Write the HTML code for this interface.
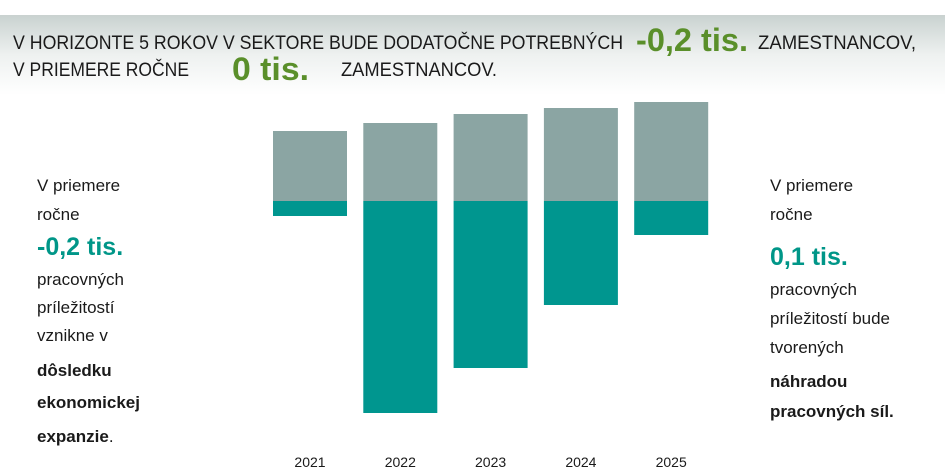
<!DOCTYPE html>
<html><head><meta charset="utf-8"><style>
html,body{margin:0;padding:0;background:#fff;}
svg{display:block;font-family:"Liberation Sans",sans-serif;}
</style></head><body>
<svg width="945" height="475" viewBox="0 0 945 475">
<defs>
<linearGradient id="hdr" x1="0" y1="0" x2="0" y2="1">
<stop offset="0" stop-color="#c9d2d0"/><stop offset="0.5" stop-color="#eef1f0"/><stop offset="1" stop-color="#ffffff"/>
</linearGradient>
</defs>
<rect x="0" y="15" width="945" height="80" fill="url(#hdr)"/>
<g fill="#1a1a1a">
<text x="13" y="49" font-size="19" textLength="610" lengthAdjust="spacingAndGlyphs">V HORIZONTE 5 ROKOV V SEKTORE BUDE DODATOČNE POTREBNÝCH</text>
<text x="636" y="51" font-size="32" font-weight="bold" fill="#5a8f2a" textLength="112" lengthAdjust="spacingAndGlyphs">-0,2 tis.</text>
<text x="758" y="49" font-size="19" textLength="158" lengthAdjust="spacingAndGlyphs">ZAMESTNANCOV,</text>
<text x="13" y="76" font-size="19" textLength="176" lengthAdjust="spacingAndGlyphs">V PRIEMERE ROČNE</text>
<text x="232" y="80" font-size="32" font-weight="bold" fill="#5a8f2a" textLength="77" lengthAdjust="spacingAndGlyphs">0 tis.</text>
<text x="341" y="76" font-size="19" textLength="156" lengthAdjust="spacingAndGlyphs">ZAMESTNANCOV.</text>
</g>
<g id="bars"></g>
<g font-size="17" fill="#1a1a1a">
<text x="37" y="191">V priemere</text>
<text x="37" y="220">ročne</text>
<text x="37" y="255" font-size="25" font-weight="bold" fill="#009688">-0,2 tis.</text>
<text x="37" y="285">pracovných</text>
<text x="37" y="313">príležitostí</text>
<text x="37" y="341">vznikne v</text>
<text x="37" y="376" font-weight="bold">dôsledku</text>
<text x="37" y="408" font-weight="bold">ekonomickej</text>
<text x="37" y="442"><tspan font-weight="bold">expanzie</tspan>.</text>
</g>
<g font-size="17" fill="#1a1a1a">
<text x="770" y="191">V priemere</text>
<text x="770" y="220">ročne</text>
<text x="770" y="265" font-size="25" font-weight="bold" fill="#009688">0,1 tis.</text>
<text x="770" y="295">pracovných</text>
<text x="770" y="324">príležitostí bude</text>
<text x="770" y="353">tvorených</text>
<text x="770" y="387" font-weight="bold">náhradou</text>
<text x="770" y="417" font-weight="bold">pracovných síl.</text>
</g>
</svg>
<script>
const years = ["2021","2022","2023","2024","2025"];
const replacementVals = [70, 78, 87, 93, 99];
const expansionVals = [-15, -212, -167, -104, -34];
const baseY = 201, pxPerUnit = 1, x0 = 273, step = 90.3, bw = 74;
const yScale = v => baseY - v * pxPerUnit;
const xScale = i => x0 + i * step;
const g = document.getElementById('bars');
const NS = 'http://www.w3.org/2000/svg';
years.forEach((yr, i) => {
  const x = xScale(i);
  const r1 = document.createElementNS(NS, 'rect');
  r1.setAttribute('x', x); r1.setAttribute('width', bw);
  r1.setAttribute('y', Math.min(yScale(replacementVals[i]), baseY));
  r1.setAttribute('height', Math.abs(replacementVals[i]) * pxPerUnit);
  r1.setAttribute('fill', '#8ba5a3');
  
  
  g.appendChild(r1);
  const r2 = document.createElementNS(NS, 'rect');
  r2.setAttribute('x', x); r2.setAttribute('width', bw);
  r2.setAttribute('y', Math.min(yScale(expansionVals[i]), baseY));
  r2.setAttribute('height', Math.abs(expansionVals[i]) * pxPerUnit);
  r2.setAttribute('fill', '#00968f');
  
  
  g.appendChild(r2);
  const t = document.createElementNS(NS, 'text');
  t.setAttribute('x', x + bw / 2); t.setAttribute('y', 467);
  t.setAttribute('text-anchor', 'middle'); t.setAttribute('font-size', '14');
  t.setAttribute('fill', '#1a1a1a');
  t.textContent = yr;
  
  
  g.appendChild(t);
});
</script>
</body></html>
